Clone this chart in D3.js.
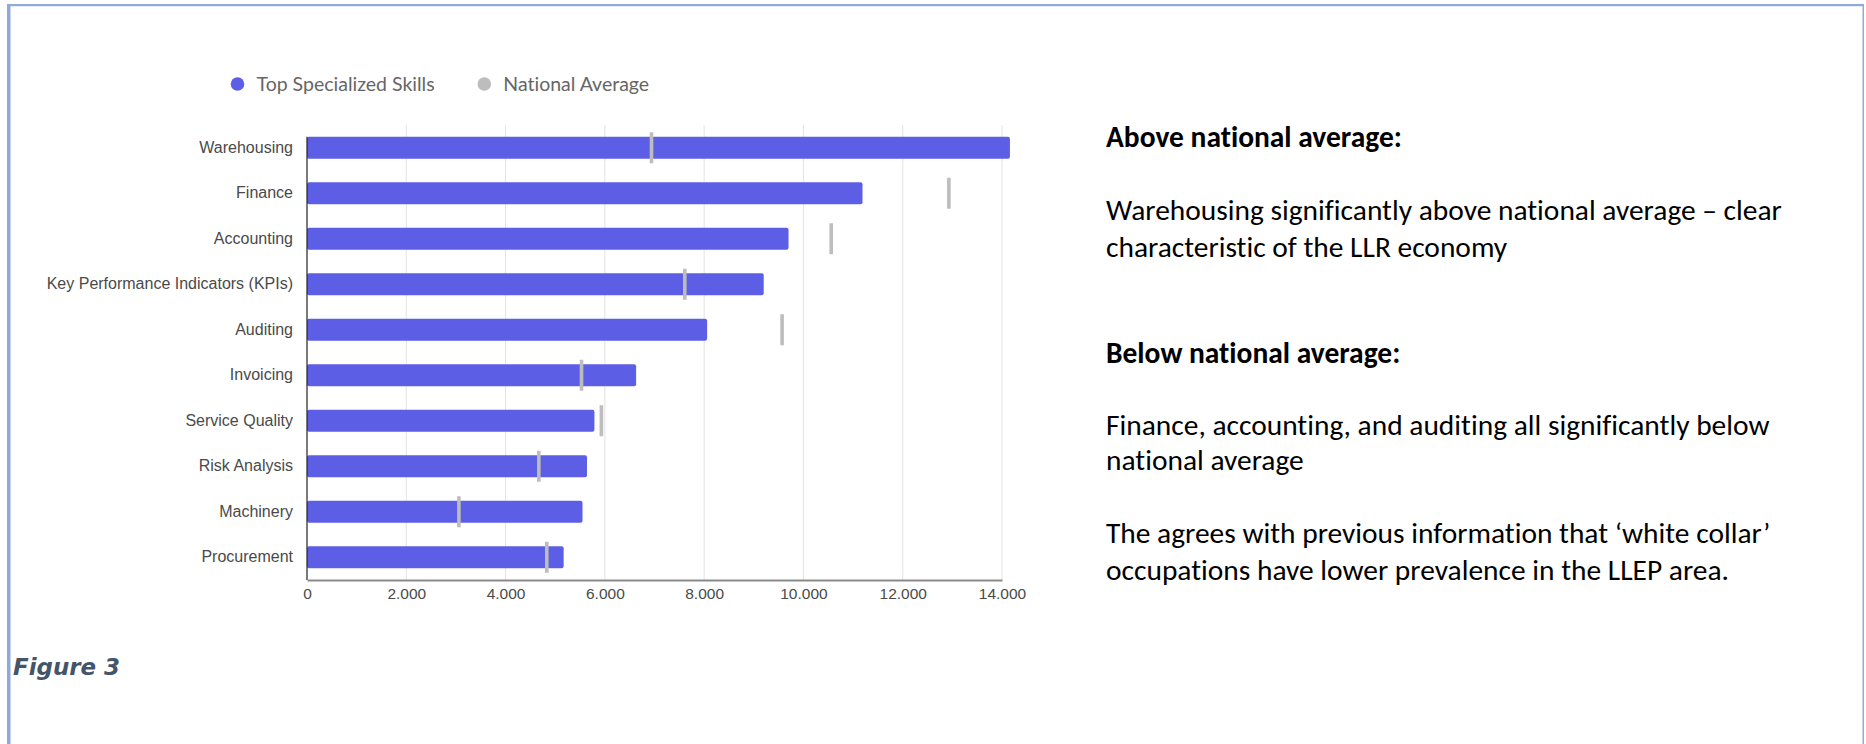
<!DOCTYPE html>
<html>
<head>
<meta charset="utf-8">
<script src="https://cdn.jsdelivr.net/npm/d3@7/dist/d3.min.js"></script>
<style>
  html, body { margin: 0; padding: 0; background: #fff; }
  svg { display: block; }
  text { font-variant-ligatures: none; font-feature-settings: "liga" 0, "clig" 0, "dlig" 0; }
</style>
</head>
<body>
<svg id="chart" width="1866" height="744"></svg>
<script>
// ---- data ----
const categories = [
  "Warehousing", "Finance", "Accounting", "Key Performance Indicators (KPIs)",
  "Auditing", "Invoicing", "Service Quality", "Risk Analysis", "Machinery", "Procurement"
];
const skillValues    = [14160, 11190, 9700, 9200, 8060, 6630, 5790, 5640, 5550, 5170];
const nationalValues = [6940, 12930, 10560, 7610, 9570, 5530, 5930, 4670, 3060, 4830];
const xTicks = [0, 2000, 4000, 6000, 8000, 10000, 12000, 14000];
const seriesNames = ["Top Specialized Skills", "National Average"];
const seriesColors = ["#5c5fe6", "#bdbdbd"];
const figureLabel = "Figure 3";
const notesHeadingAbove = "Above national average:";
const notesAbove = ["Warehousing significantly above national average \u2013 clear", "characteristic of the LLR economy"];
const notesHeadingBelow = "Below national average:";
const notesBelow1 = ["Finance, accounting, and auditing all significantly below", "national average"];
const notesBelow2 = ["The agrees with previous information that \u2018white collar\u2019", "occupations have lower prevalence in the LLEP area."];

// ---- layout ----
const svg = d3.select("#chart");
const plot = { left: 307, right: 1002, top: 125, bottom: 580 };

// page frame
svg.append("rect").attr("x", 7).attr("y", 4).attr("width", 1857).attr("height", 2.2).attr("fill", "#8eaadb");
svg.append("rect").attr("x", 7).attr("y", 4).attr("width", 3.5).attr("height", 740).attr("fill", "#8eaadb");
svg.append("rect").attr("x", 1862.5).attr("y", 4).attr("width", 1.5).attr("height", 740).attr("fill", "#8eaadb");

const x = d3.scaleLinear().domain([0, 14000]).range([plot.left, plot.right]);
const y = d3.scaleBand().domain(categories).range([plot.top, plot.bottom])
  .paddingInner(0.52).paddingOuter(0.26);

const locale = d3.formatLocale({ decimal: ",", thousands: ".", grouping: [3], currency: ["", ""] });
const fmt = locale.format(",");

// gridlines
svg.append("g").selectAll("line").data(xTicks.filter(d => d > 0)).join("line")
  .attr("x1", d => x(d)).attr("x2", d => x(d))
  .attr("y1", plot.top).attr("y2", plot.bottom)
  .attr("stroke", "#e3e3e3").attr("stroke-width", 1);

// bars
svg.append("g").selectAll("rect").data(categories).join("rect")
  .attr("x", x(0))
  .attr("y", d => y(d))
  .attr("width", (d, i) => x(skillValues[i]) - x(0))
  .attr("height", y.bandwidth())
  .attr("rx", 2)
  .attr("fill", seriesColors[0]);

// zero baseline
svg.append("line")
  .attr("x1", x(0)).attr("x2", x(0))
  .attr("y1", y(categories[0])).attr("y2", plot.bottom)
  .attr("stroke", "#222").attr("stroke-width", 1.2);

// national average markers
const markH = 31, markW = 3.6;
svg.append("g").selectAll("rect").data(categories).join("rect")
  .attr("x", (d, i) => x(nationalValues[i]) - markW / 2)
  .attr("y", d => y(d) + y.bandwidth() / 2 - markH / 2)
  .attr("width", markW)
  .attr("height", markH)
  .attr("fill", seriesColors[1]);

// x axis
const xAxis = svg.append("g")
  .attr("transform", `translate(0,${plot.bottom})`)
  .call(d3.axisBottom(x).tickValues(xTicks).tickFormat(fmt).tickSize(0).tickSizeOuter(0).tickPadding(8));
xAxis.select(".domain").attr("stroke", "#8a8a8a").attr("stroke-width", 2);
xAxis.selectAll("text")
  .attr("font-family", "'Liberation Sans', Arial, sans-serif")
  .attr("font-size", 15.5).attr("fill", "#4a4a4a");

// y axis
const yAxis = svg.append("g")
  .attr("transform", `translate(${plot.left},0)`)
  .call(d3.axisLeft(y).tickSize(0).tickPadding(14));
yAxis.select(".domain").remove();
yAxis.selectAll("text")
  .attr("font-family", "'Liberation Sans', Arial, sans-serif")
  .attr("font-size", 16).attr("fill", "#4a4a4a");

// legend
const legendX = [237.5, 484.3];
const legend = svg.append("g");
seriesNames.forEach((name, i) => {
  legend.append("circle").attr("cx", legendX[i]).attr("cy", 84).attr("r", 6.8).attr("fill", seriesColors[i]);
  legend.append("text").attr("x", legendX[i] + 19).attr("y", 84).attr("dy", "0.36em")
    .attr("font-family", "Lato, sans-serif").attr("font-size", 19.5).attr("fill", "#666")
    .text(name);
});

// notes
function fitSize(text, family, weight, target, start) {
  const t = svg.append("text").attr("font-family", family).attr("font-weight", weight)
    .attr("font-size", start).text(text);
  const w = t.node().getComputedTextLength();
  t.remove();
  return start * target / w;
}
const noteFamily = "Carlito, Lato, 'Open Sans', sans-serif";
const normalSize = fitSize(notesAbove[0], noteFamily, 400, 676, 29);
const boldSize = fitSize(notesHeadingAbove, noteFamily, 700, 296, 29);
const noteX = 1106;
function noteLine(txt, yy, bold) {
  svg.append("text").attr("x", noteX).attr("y", yy)
    .attr("font-family", noteFamily)
    .attr("font-weight", bold ? 700 : 400)
    .attr("font-size", bold ? boldSize : normalSize)
    .attr("fill", "#000").text(txt);
}
noteLine(notesHeadingAbove, 147, true);
noteLine(notesAbove[0], 220, false);
noteLine(notesAbove[1], 256.5, false);
noteLine(notesHeadingBelow, 363, true);
noteLine(notesBelow1[0], 435, false);
noteLine(notesBelow1[1], 470, false);
noteLine(notesBelow2[0], 543, false);
noteLine(notesBelow2[1], 580, false);

// figure label
const figFamily = "'DejaVu Sans', 'Liberation Sans', sans-serif";
const figSize = fitSize(figureLabel, figFamily, 700, 107, 22);
svg.append("text").attr("x", 13).attr("y", 675)
  .attr("font-family", figFamily).attr("font-weight", 700).attr("font-style", "italic")
  .attr("font-size", figSize).attr("fill", "#44546a").text(figureLabel);
</script>
</body>
</html>
